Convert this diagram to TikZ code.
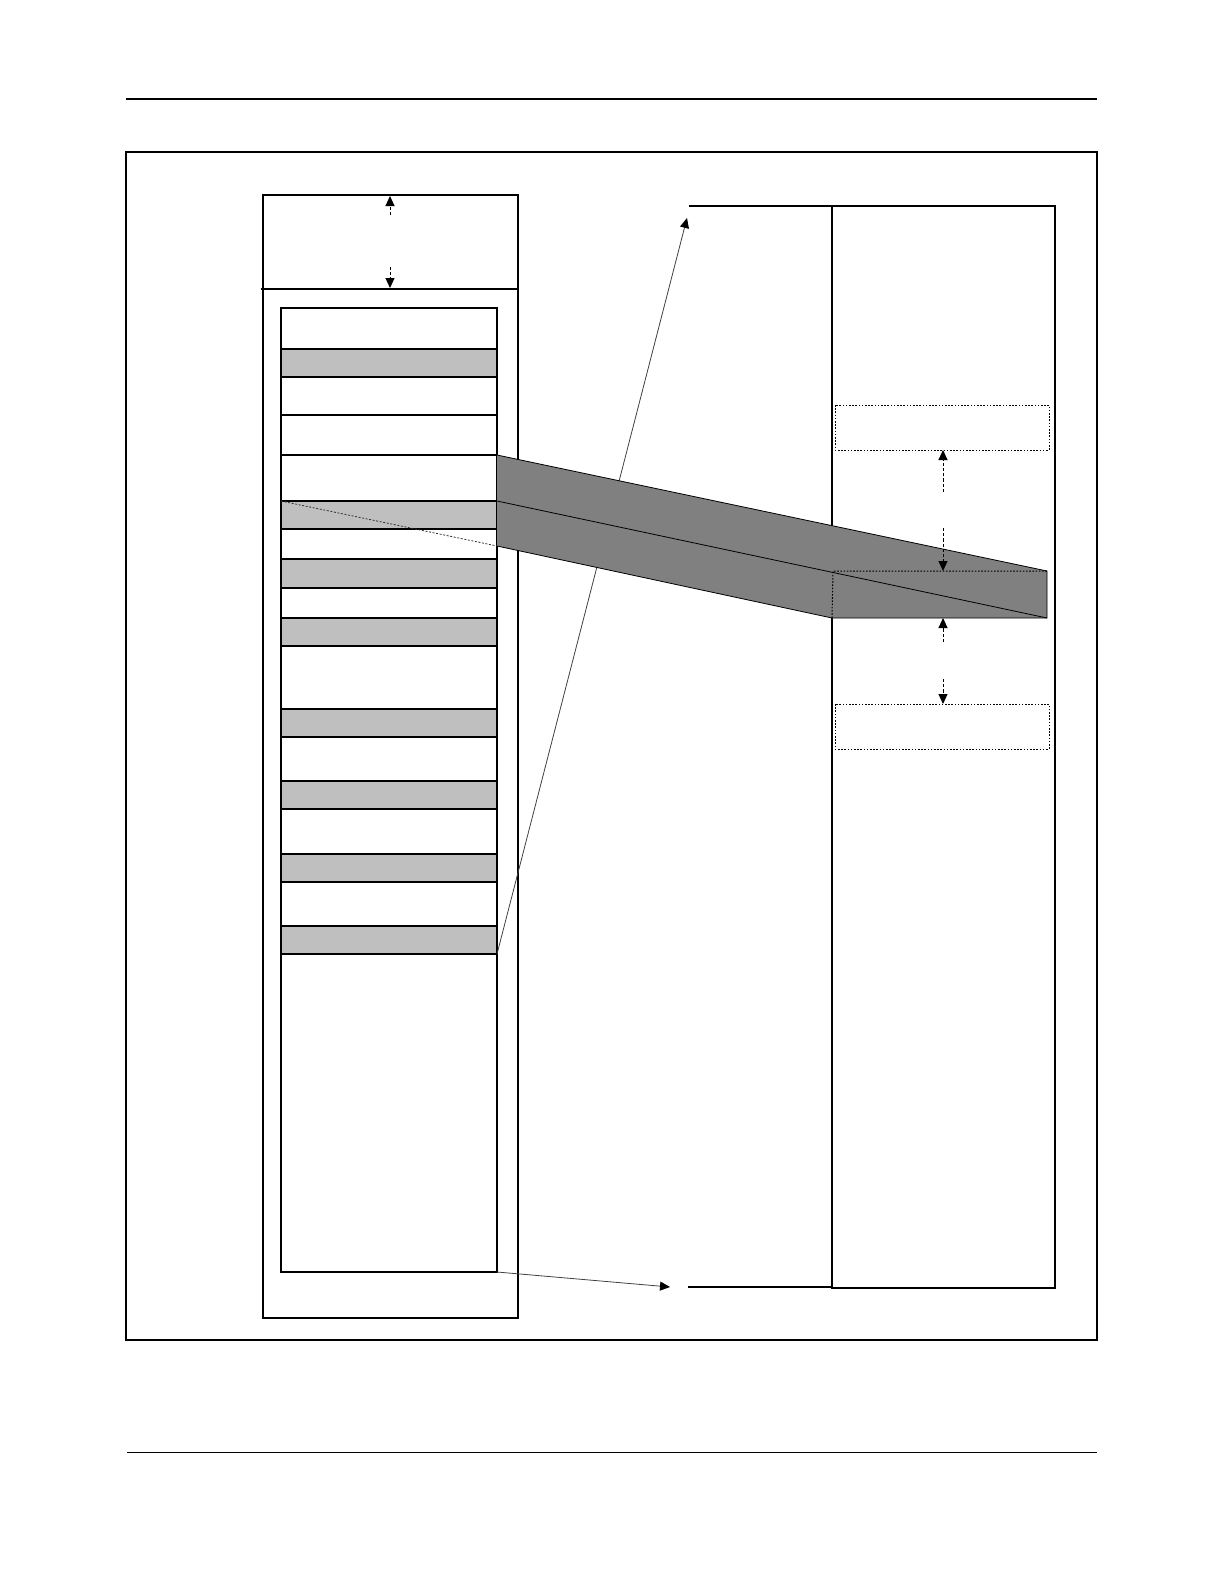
\documentclass[tikz,border=0pt]{standalone}
\usetikzlibrary{arrows.meta}
\begin{document}
\begin{tikzpicture}[x=0.5bp,y=-0.5bp,
    frame/.style={draw,line width=0.65bp},
    rowgray/.style={fill=black!25},
    band/.style={fill=black!50,draw,line width=0.4bp},
    dimarrow/.style={-{Triangle[length=5bp,width=4.5bp]},dash pattern=on 1.6bp off 1bp,line width=0.5bp},
    linkarrow/.style={-{Triangle[length=5bp,width=4.5bp,color=black]},line width=0.4bp,black!75},
    dotbox/.style={draw,dash pattern=on 0.8bp off 0.8bp,line width=0.5bp}]
\useasboundingbox (0,0) rectangle (1224,1584);
%% page rules and frame
\draw[line width=1.2bp] (126,99) -- (1097,99);
\draw[line width=0.5bp] (127,1452) -- (1097,1452);
\draw[frame] (126,152) rectangle (1097,1340);
%% left block
\draw[frame] (263,195) rectangle (518,1318);
\draw[frame] (261,289) -- (518,289);
% gray rows
\foreach \t/\b in {349/377,501/529,559/588,618/646,709/737,781/809,854/882,926/954}
  \fill[rowgray] (281,\t) rectangle (497,\b);
\foreach \y in {349,377,415,455,501,529,559,588,618,646,709,737,781,809,854,882,926,954}
  \draw[frame] (281,\y) -- (497,\y);
\draw[frame] (281,308) rectangle (497,1272);
% corners used by the connectors
\coordinate (row-w) at (281,501);
\coordinate (row-top) at (497,455);
\coordinate (row-mid) at (497,501);
\coordinate (row-bot) at (497,546);
\coordinate (last-e) at (497,954);
\coordinate (stack-se) at (497,1272);
% header arrows
\coordinate (hd-a) at (390,215);
\coordinate (hd-b) at (390,196);
\coordinate (hd-c) at (390,267);
\coordinate (hd-d) at (390,288);
\draw[dimarrow] (hd-a) -- (hd-b);
\draw[dimarrow] (hd-c) -- (hd-d);
%% right block
\draw[frame] (832,206) rectangle (1055,1288);
\coordinate (map-top) at (689,206);
\coordinate (map-bot) at (688,1287);
\coordinate (top-tip) at (687,218);
\coordinate (bot-tip) at (670,1287);
\draw[line width=1bp] (map-top) -- (832,206);
\draw[line width=1bp] (map-bot) -- (832,1287);
\draw[linkarrow] (last-e) -- (top-tip);
\draw[linkarrow] (stack-se) -- (bot-tip);
\draw[dotbox] (835,405) rectangle (1049,450);
\draw[dotbox] (835,704) rectangle (1049,749);
%% band
\coordinate (win-nw) at (833,571);
\coordinate (win-ne) at (1047,571);
\coordinate (win-se) at (1047,618);
\coordinate (win-sw) at (832,618);
\fill[black!50] (row-top) -- (win-ne) -- (win-se) -- (win-sw) -- (row-bot) -- cycle;
\draw[line width=0.4bp] (row-top) -- (win-ne) -- (win-se) -- (win-sw) -- (row-bot);
\draw[line width=0.4bp] (row-mid) -- (win-se);
\draw[dotbox] (win-sw) -- (win-nw) -- (win-ne);
\draw[line width=0.4bp,dash pattern=on 1bp off 0.8bp,black!80] (row-w) -- (row-bot);
% window arrows
\draw[dimarrow] (943,492) -- (943,450);
\draw[dimarrow] (943,528) -- (943,571);
\draw[dimarrow] (943,642) -- (943,618);
\draw[dimarrow] (943,679) -- (943,704);
\end{tikzpicture}
\end{document}
